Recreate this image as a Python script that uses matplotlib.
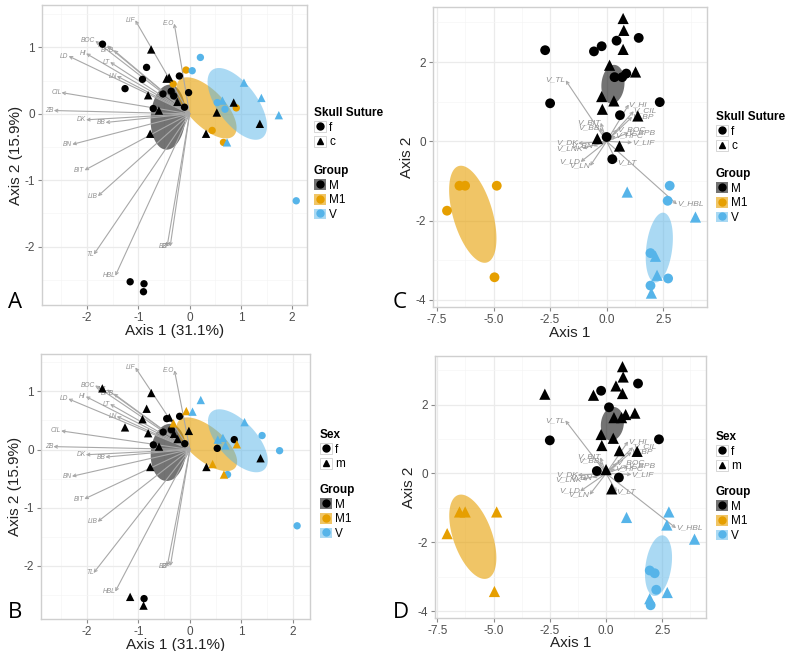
import numpy as np
import matplotlib.pyplot as plt
from matplotlib.lines import Line2D
from matplotlib.patches import Patch
from matplotlib.ticker import AutoMinorLocator, FormatStrFormatter

plt.rcParams['font.family'] = ['Liberation Sans', 'DejaVu Sans']
plt.rcParams['axes.unicode_minus'] = False

# ---- panels A/B: PCA scores (Axis 1 / Axis 2) ----
ab_x = [-1.70, -0.84, -0.92, -1.26, -0.20, -0.02, -0.52, -0.36, -0.31, -0.71, -0.10, -1.16, -0.89, -0.90,
        -0.75, -0.40, -0.45, -0.81, -0.24, -0.60, -0.77, 0.53, 0.32, 0.86, 1.37,
        -0.07, -0.32, 0.44, 0.66, 0.91,
        0.21, 0.05, 0.54, 0.69, 2.08, 1.06, 1.40, 1.74, 0.64, 0.73]
ab_y = [1.05, 0.70, 0.52, 0.38, 0.57, 0.32, 0.30, 0.34, 0.27, 0.08, 0.10, -2.53, -2.56, -2.68,
        0.97, 0.55, 0.53, 0.28, 0.18, 0.05, -0.30, 0.02, -0.30, 0.17, -0.15,
        0.66, 0.45, -0.25, -0.43, 0.09,
        0.85, 0.65, 0.17, 0.07, -1.31, 0.47, 0.24, -0.02, 0.20, -0.43]
ab_group = ['M'] * 25 + ['M1'] * 5 + ['V'] * 10
ab_suture = ['f'] * 14 + ['c'] * 11 + ['f'] * 5 + ['f'] * 5 + ['c'] * 5
ab_sex = ['m', 'm', 'm', 'm', 'f', 'm', 'f', 'f', 'm', 'f', 'f', 'm', 'f', 'm',
          'm', 'm', 'f', 'm', 'm', 'm', 'm', 'f', 'm', 'f', 'm',
          'm', 'm', 'm', 'm', 'm',
          'm', 'm', 'm', 'm', 'f', 'm', 'f', 'f', 'm', 'f']

ab_var = ['LIF', 'E.O', 'BOC', 'M1', 'BPB', 'HI', 'LD', 'LT', 'LN', 'CIL', 'ZB', 'DK', 'BB', 'BN',
          'BIT', 'LIB', 'TL', 'HBL', 'BZ', 'BP']
ab_vx = [-1.06, -0.30, -1.84, -1.61, -1.48, -2.02, -2.36, -1.55, -1.42, -2.50, -2.65, -2.02, -1.64, -2.29,
         -2.05, -1.79, -1.87, -1.45, -0.44, -0.38]
ab_vy = [1.41, 1.36, 1.10, 1.03, 0.96, 0.91, 0.87, 0.78, 0.57, 0.32, 0.05, -0.09, -0.13, -0.46,
         -0.85, -1.24, -2.12, -2.44, -2.00, -2.00]

# ellipse: centre, semi-axis a, semi-axis b (data units)
ab_ell_c = {'M': (-0.42, -0.05), 'M1': (0.33, 0.09), 'V': (0.93, 0.15)}
ab_ell_a = {'M': (0.03, 0.49), 'M1': (0.53, -0.42), 'V': (0.49, -0.51)}
ab_ell_b = {'M': (0.34, 0.0), 'M1': (0.25, 0.19), 'V': (0.31, 0.18)}

# ---- panels C/D ----
cd_x = [-2.72, -0.56, -0.22, 0.44, 1.42, 0.35, 0.69, 0.87, -2.50, 2.35, 0.59, 0.00, 0.25,
        0.73, 0.76, 0.73, 0.13, 1.28, -0.22, 0.32, -0.19, 1.38, -0.41, 0.57,
        -6.51, -6.26, -4.86, -7.06, -4.96,
        2.79, 2.70, 0.91, 3.93, 1.94, 2.16, 2.23, 2.72, 1.94, 1.98]
cd_y = [2.30, 2.27, 2.40, 2.54, 2.61, 1.62, 1.62, 1.71, 0.96, 0.99, 0.66, 0.11, -0.45,
        3.10, 2.80, 2.32, 1.92, 1.75, 1.13, 1.02, 0.81, 0.64, 0.07, -0.12,
        -1.12, -1.12, -1.12, -1.75, -3.43,
        -1.12, -1.50, -1.28, -1.91, -2.82, -2.90, -3.38, -3.46, -3.64, -3.83]
cd_group = ['M'] * 24 + ['M1'] * 5 + ['V'] * 10
cd_suture = ['f'] * 13 + ['c'] * 11 + ['f'] * 5 + ['f', 'f', 'c', 'c', 'f', 'c', 'c', 'f', 'f', 'c']
cd_sex = ['m', 'm', 'f', 'm', 'f', 'm', 'm', 'm', 'f', 'f', 'm', 'm', 'm',
          'm', 'm', 'm', 'f', 'm', 'm', 'm', 'm', 'm', 'f', 'f',
          'm', 'm', 'm', 'm', 'm',
          'm', 'm', 'm', 'm', 'f', 'f', 'f', 'm', 'm', 'f']

cd_var = ['V_TL', 'V_HI', 'V_CIL', 'V_BP', 'V_BIT', 'V_BB', 'V_BOC', 'V_BPB', 'V_HPC', 'V_LIF',
          'V_DK', 'V_LNK', 'V_BN', 'V_LD', 'V_LN', 'V_LT', 'V_HBL']
cd_vx = [-1.81, 0.98, 1.20, 1.13, -0.26, -0.30, 0.47, 0.98, 0.40, 1.13, -1.26, -1.07, -0.60, -1.15, -0.73, 0.47, 3.11]
cd_vy = [1.54, 0.93, 0.76, 0.62, 0.47, 0.35, 0.30, 0.22, 0.14, -0.03, -0.05, -0.18, -0.12, -0.52, -0.62, -0.54, -1.59]

cd_ell_c = {'M': (0.28, 1.44), 'M1': (-5.92, -1.84), 'V': (2.33, -2.68)}
cd_ell_a = {'M': (0.05, 0.49), 'M1': (-0.44, 1.22), 'V': (0.19, 0.88)}
cd_ell_b = {'M': (0.51, 0.0), 'M1': (0.95, -0.11), 'V': (0.57, -0.04)}

groups = ['M', 'M1', 'V']
pt_col = {'M': '#000000', 'M1': '#E69F00', 'V': '#56B4E9'}
ell_col = {'M': ('#000000', 0.55), 'M1': ('#E69F00', 0.6), 'V': ('#56B4E9', 0.5)}
marker = {'f': 'o', 'c': '^', 'm': '^'}


def draw_panel(ax, px, py, grp, shp, vx, vy, vnames, ec, ea, eb, big):
    t = np.linspace(0, 2 * np.pi, 120)
    for g in groups:
        cx, cy = ec[g]
        x = cx + ea[g][0] * np.cos(t) + eb[g][0] * np.sin(t)
        y = cy + ea[g][1] * np.cos(t) + eb[g][1] * np.sin(t)
        ax.fill(x, y, color=ell_col[g][0], alpha=ell_col[g][1], lw=0, zorder=1)
    fs = 6 if big else 4.8
    for x, y, n in zip(vx, vy, vnames):
        ax.annotate('', xy=(x, y), xytext=(0, 0),
                    arrowprops=dict(arrowstyle='->', color='#a8a8a8', lw=0.8, mutation_scale=5,
                                    shrinkA=0, shrinkB=0), zorder=2)
        ax.text(x, y, n, fontsize=fs, style='italic', color='#909090',
                ha='left' if x > 0 else 'right', va='center', zorder=2)
    sc = 50 if big else 28
    for s in ['o', '^']:
        idx = [i for i in range(len(px)) if marker[shp[i]] == s]
        ax.scatter([px[i] for i in idx], [py[i] for i in idx], marker=s,
                   s=sc * (1.3 if s == '^' else 1), c=[pt_col[grp[i]] for i in idx],
                   linewidths=0, zorder=3)


def style(ax, xlim, ylim, xt, yt, xlab, ylab, fmt=None, xpad=0):
    ax.set_xlim(xlim)
    ax.set_ylim(ylim)
    ax.set_xticks(xt)
    ax.set_yticks(yt)
    if fmt:
        ax.xaxis.set_major_formatter(FormatStrFormatter(fmt))
    ax.xaxis.set_minor_locator(AutoMinorLocator(2))
    ax.yaxis.set_minor_locator(AutoMinorLocator(2))
    ax.grid(which='major', color='#ebebeb', lw=0.9)
    ax.grid(which='minor', color='#f5f5f5', lw=0.5)
    ax.set_axisbelow(True)
    for s in ax.spines.values():
        s.set_color('#cfcfcf')
        s.set_linewidth(1.0)
    ax.tick_params(which='major', length=3, color='#8a8a8a', labelsize=8.5, labelcolor='#4d4d4d', pad=2)
    ax.tick_params(which='minor', length=0)
    ax.set_xlabel(xlab, fontsize=11, color='#222222', labelpad=xpad)
    ax.set_ylabel(ylab, fontsize=11, color='#222222', labelpad=1)


def legends(fig, x, y_top, y_top2, title, shapes):
    h1 = [(Patch(facecolor='white', edgecolor='#d0d0d0', lw=0.6),
           Line2D([], [], marker=marker[s], color='black', ls='', markersize=5)) for s in shapes]
    fig.legend(h1, shapes, title=title, loc='upper left', bbox_to_anchor=(x, y_top),
               frameon=False, alignment='left', fontsize=8.5,
               title_fontproperties={'weight': 'bold', 'size': 8.5},
               handlelength=1.0, handleheight=1.0, handletextpad=0.3, labelspacing=0.2,
               borderpad=0, borderaxespad=0)
    h2 = [(Patch(facecolor=ell_col[g][0], alpha=ell_col[g][1], lw=0),
           Line2D([], [], marker='o', color=pt_col[g], ls='', markersize=5)) for g in groups]
    fig.legend(h2, groups, title='Group', loc='upper left', bbox_to_anchor=(x, y_top2),
               frameon=False, alignment='left', fontsize=8.5,
               title_fontproperties={'weight': 'bold', 'size': 8.5},
               handlelength=1.0, handleheight=1.0, handletextpad=0.3, labelspacing=0.2,
               borderpad=0, borderaxespad=0)


W, H = 787, 651
fig = plt.figure(figsize=(W / 100, H / 100), dpi=100)


def rect(l, t, r, b):
    return [l / W, 1 - b / H, (r - l) / W, (b - t) / H]


axA = fig.add_axes(rect(42, 5, 307, 305))
axB = fig.add_axes(rect(41, 354, 310, 619))
axC = fig.add_axes(rect(433, 7, 707, 307))
axD = fig.add_axes(rect(435, 356, 706, 618))

draw_panel(axA, ab_x, ab_y, ab_group, ab_suture, ab_vx, ab_vy, ab_var, ab_ell_c, ab_ell_a, ab_ell_b, False)
draw_panel(axB, ab_x, ab_y, ab_group, ab_sex, ab_vx, ab_vy, ab_var, ab_ell_c, ab_ell_a, ab_ell_b, False)
draw_panel(axC, cd_x, cd_y, cd_group, cd_suture, cd_vx, cd_vy, cd_var, cd_ell_c, cd_ell_a, cd_ell_b, True)
draw_panel(axD, cd_x, cd_y, cd_group, cd_sex, cd_vx, cd_vy, cd_var, cd_ell_c, cd_ell_a, cd_ell_b, True)

style(axA, (-2.88, 2.29), (-2.88, 1.64), [-2, -1, 0, 1, 2], [-2, -1, 0, 1], 'Axis 1 (31.1%)', 'Axis 2 (15.9%)')
style(axB, (-2.89, 2.33), (-2.91, 1.64), [-2, -1, 0, 1, 2], [-2, -1, 0, 1], 'Axis 1 (31.1%)', 'Axis 2 (15.9%)')
style(axC, (-7.68, 4.44), (-4.18, 3.39), [-7.5, -5, -2.5, 0, 2.5], [-4, -2, 0, 2], 'Axis 1', 'Axis 2', '%.1f')
style(axD, (-7.6, 4.44), (-4.2, 3.41), [-7.5, -5, -2.5, 0, 2.5], [-4, -2, 0, 2], 'Axis 1', 'Axis 2', '%.1f', xpad=-1)

legends(fig, 314 / W, 1 - 107 / H, 1 - 165 / H, 'Skull Suture', ['f', 'c'])
legends(fig, 320 / W, 1 - 429 / H, 1 - 484 / H, 'Sex', ['f', 'm'])
legends(fig, 716 / W, 1 - 111 / H, 1 - 168 / H, 'Skull Suture', ['f', 'c'])
legends(fig, 716 / W, 1 - 431 / H, 1 - 486 / H, 'Sex', ['f', 'm'])

for lab, x, y in [('A', 8, 303), ('B', 8, 613), ('C', 393, 302), ('D', 393, 613)]:
    fig.text(x / W, 1 - y / H, lab, fontsize=16, family=['Open Sans', 'DejaVu Sans'], va='center', ha='left')

fig.savefig('out.png', dpi=100)
